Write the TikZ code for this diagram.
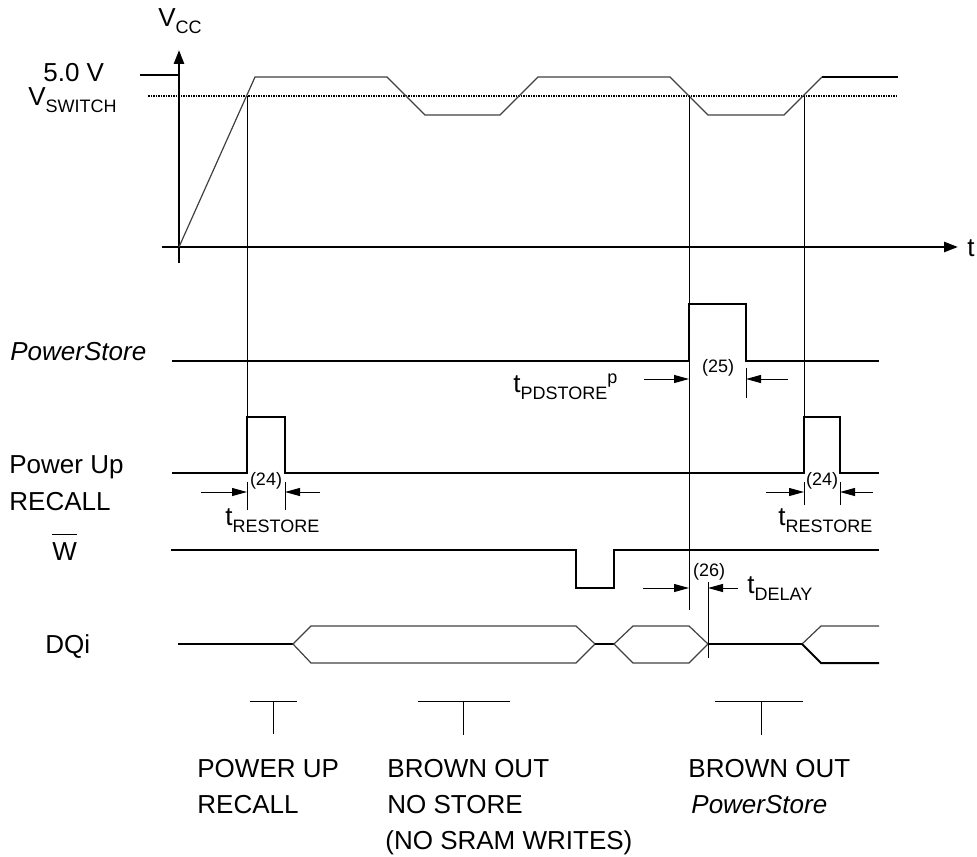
\documentclass[tikz,border=0pt]{standalone}
\usepackage{fontspec}
\setmainfont{Liberation Sans}
\usetikzlibrary{arrows.meta}
\newcommand{\lo}[1]{\raisebox{-3.5pt}{\fontsize{9}{9}\selectfont #1}}
\newcommand{\hi}[1]{\raisebox{4.5pt}{\fontsize{9}{9}\selectfont #1}}

\begin{document}
\begin{tikzpicture}[x=0.5pt,y=-0.5pt,
    every node/.style={inner sep=0pt,font=\fontsize{13}{15}\selectfont},
    lbl/.style={anchor=base west},
    num/.style={font=\fontsize{9}{9}\selectfont},
    sig/.style={line width=1pt},
    fine/.style={line width=0.5pt},
    edge/.style={line width=0.6pt,black!75},
    axis/.style={line width=1.3pt,-{Triangle[length=7pt,width=5pt]}},
    dim/.style={line width=0.5pt,-{Triangle[length=7.5pt,width=4pt]}}]
            \useasboundingbox (0,0) rectangle (977,856);
            % axes
            \draw [axis] (179,263) -- (179,50);
            \draw [axis] (162,247) -- (958,247);
            \node [lbl] (vcc) at (158,27) {V\lo{CC}};
            \node [lbl] (taxis) at (967,256) {t};
            \node [lbl] (five) at (43,82) {5.0 V};
            \node [lbl] (vsw) at (28,105) {V\lo{SWITCH}};
            \draw [line width=1.2pt] (140,75) -- (179,75);
            \draw [line width=0.7pt,dash pattern=on 0.75pt off 0.5pt] (148,96) -- (898,96);
            % Vcc
            \draw [edge] (179,247) -- (255,77) -- (387,77) -- (425,115) -- (500,115) -- (538,77)
                -- (670,77) -- (708,115) -- (784,115) -- (822,77);
            \draw [line width=1.2pt] (822,77) -- (898,77);
            % timing lines
            \draw [fine] (247,96) -- (247,417);
            \draw [fine] (689,96) -- (689,610);
            \draw [fine] (804,96) -- (804,417);
            % signal names
            \node [lbl,font=\fontsize{13}{15}\selectfont\itshape] (pslbl) at (10,360) {PowerStore};
            \node [lbl] (pulbl) at (9,473) {Power Up};
            \node [lbl] (rclbl) at (9,510) {RECALL};
            \node [lbl] (wlbl) at (52,560) {W};
            \draw [line width=0.6pt] ([yshift=3.5pt]wlbl.north west) -- ([yshift=3.5pt]wlbl.north east);
            \node [lbl] (dqlbl) at (45,653) {DQi};
            % PowerStore
            \draw [sig] (172,361) -- (689,361) -- (689,304) -- (746,304) -- (746,361) -- (879,361);
            % Power Up RECALL
            \draw [sig] (172,473) -- (247,473) -- (247,417) -- (285,417) -- (285,473) -- (804,473)
                -- (804,417) -- (840,417) -- (840,473) -- (879,473);
            % W
            \draw [sig] (171,550) -- (576,550) -- (576,588) -- (614,588) -- (614,550) -- (879,550);
            % DQi
            \draw [sig] (178,644) -- (293,644);
            \draw [edge] (293,644) -- (311,626) -- (576,626) -- (595,644) -- (576,663) -- (311,663) -- cycle;
            \draw [sig] (595,644) -- (614,644);
            \draw [edge] (614,644) -- (633,626) -- (689,626) -- (708,644) -- (689,663) -- (633,663) -- cycle;
            \draw [sig] (708,644) -- (802,644);
            \draw [edge] (879,626) -- (821,626) -- (802,644);
            \draw [sig] (802,644) -- (821,663) -- (879,663);
            % tRESTORE
            \draw [fine] (247,482) -- (247,510);
            \draw [fine] (285,482) -- (285,510);
            \draw [dim] (201,492) -- (247,492);
            \draw [dim] (320,492) -- (285,492);
            \node [num] (d24a) at (266,481) {(24)};
            \node [lbl] (tres1) at (225,525) {t\lo{RESTORE}};
            \draw [fine] (804,482) -- (804,505);
            \draw [fine] (840,482) -- (840,505);
            \draw [dim] (766,492) -- (804,492);
            \draw [dim] (873,492) -- (840,492);
            \node [num] (d24b) at (822,481) {(24)};
            \node [lbl] (tres2) at (778,525) {t\lo{RESTORE}};
            % tPDSTORE
            \draw [fine] (746,368) -- (746,398);
            \draw [dim] (644,379) -- (689,379);
            \draw [dim] (788,379) -- (746,379);
            \node [num] (d25) at (718,368) {(25)};
            \node [lbl] (tpd) at (513,392) {t\lo{PDSTORE}\hi{p}};
            % tDELAY
            \draw [fine] (708,582) -- (708,658);
            \draw [dim] (643,588) -- (689,588);
            \draw [dim] (738,588) -- (708,588);
            \node [num] (d26) at (709,572) {(26)};
            \node [lbl] (tdel) at (747,593) {t\lo{DELAY}};
            % events
            \draw [fine] (250,701) -- (297,701) (273,701) -- (273,734);
            \draw [fine] (418,701) -- (510,701) (463,701) -- (463,735);
            \draw [fine] (715,701) -- (803,701) (761,701) -- (761,735);
            \node [lbl] (ev1a) at (197,777) {POWER UP};
            \node [lbl] (ev1b) at (197,813) {RECALL};
            \node [lbl] (ev2a) at (387,777) {BROWN OUT};
            \node [lbl] (ev2b) at (387,813) {NO STORE};
            \node [lbl] (ev2c) at (385,849) {(NO SRAM WRITES)};
            \node [lbl] (ev3a) at (688,777) {BROWN OUT};
            \node [lbl,font=\fontsize{13}{15}\selectfont\itshape] (ev3b) at (691,813) {PowerStore};
\end{tikzpicture}
\end{document}
